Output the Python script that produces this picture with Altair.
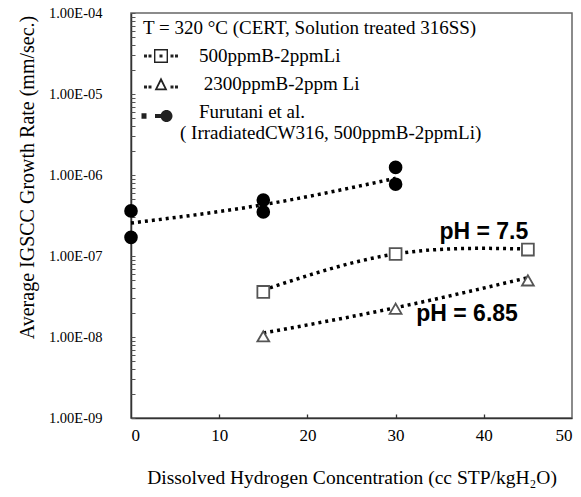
import altair as alt
import pandas as pd

# ---------------- data ----------------
series = ["500ppmB-2ppmLi", "2300ppmB-2ppm Li", "Furutani et al."]

sq_x = [15, 30, 45]
sq_y = [3.6e-8, 1.06e-7, 1.2e-7]
tri_x = [15, 30, 45]
tri_y = [1.02e-8, 2.23e-8, 5.0e-8]
circ_x = [0, 0, 15, 15, 30, 30]
circ_y = [3.6e-7, 1.7e-7, 4.9e-7, 3.5e-7, 1.24e-6, 7.7e-7]

# dotted trend lines
sq_fit_x = [15, 30, 45]
sq_fit_y = [3.8e-8, 1.06e-7, 1.22e-7]
tri_fit_x = [15, 30, 45]
tri_fit_y = [1.12e-8, 2.3e-8, 5.4e-8]
circ_fit_x = [0, 15, 30]
circ_fit_y = [2.55e-7, 4.3e-7, 9.1e-7]

ann_text = ["pH = 7.5", "pH = 6.85"]
ann_x = [40, 38.1]
ann_y = [2.0e-7, 1.92e-8]

legend_title = "T = 320 °C (CERT, Solution treated 316SS)"
furutani_line2 = "( IrradiatedCW316, 500ppmB-2ppmLi)"

x_ticks = [0, 10, 20, 30, 40, 50]
x_inner_ticks = [10, 20, 30, 40]
y_ticks = [1e-9, 1e-8, 1e-7, 1e-6, 1e-5, 1e-4]
y_minor = [k * 10.0 ** e for e in range(-9, -4) for k in range(1, 10)] + [1e-4]

x_title = "Dissolved Hydrogen Concentration (cc STP/kgH\u2082O)"
y_title = "Average IGSCC Growth Rate (mm/sec.)"

# ---------------- tables ----------------
pts = pd.DataFrame({
    "x": sq_x + tri_x + circ_x,
    "y": sq_y + tri_y + circ_y,
    "series": [series[0]] * len(sq_x) + [series[1]] * len(tri_x) + [series[2]] * len(circ_x),
})
pts["key"] = pts["series"]  # separate field so the legend is not merged with the hidden ones
fits = pd.DataFrame({
    "x": sq_fit_x + tri_fit_x + circ_fit_x,
    "y": sq_fit_y + tri_fit_y + circ_fit_y,
    "series": [series[0]] * len(sq_fit_x) + [series[1]] * len(tri_fit_x) + [series[2]] * len(circ_fit_x),
})
ann = pd.DataFrame({"x": ann_x, "y": ann_y, "t": ann_text})

SERIF = "Liberation Serif"
SANS = "Liberation Sans"

xs = alt.Scale(domain=[0, 50], nice=False, zero=False)
ys = alt.Scale(type="log", domain=[1e-9, 1e-4], nice=False)

# ---------------- legend symbols (custom paths, 10 px per unit) ----------------
def rect(x0, y0, x1, y1, cw=True):
    if cw:
        return f"M{x0},{y0}L{x1},{y0}L{x1},{y1}L{x0},{y1}Z"
    return f"M{x0},{y0}L{x0},{y1}L{x1},{y1}L{x1},{y0}Z"

def dot(cx, cy, h=0.15):
    return rect(round(cx - h, 3), round(cy - h, 3), round(cx + h, 3), round(cy + h, 3))

SQ_PATH = "".join(dot(x, 0) for x in [-1.55, -1.1, 0, 1.1, 1.55]) + \
    rect(-0.7, -0.7, 0.7, 0.7) + rect(-0.56, -0.56, 0.56, 0.56, cw=False)
TRI_PATH = "".join(dot(x, 0.3) for x in [-1.55, -1.1, 1.1, 1.55]) + \
    "M0,-0.68L0.64,0.62L-0.64,0.62Z" + "M0,-0.26L-0.36,0.44L0.36,0.44Z"
cy = 0.4
CIRC_PATH = rect(-1.95, cy - 0.27, -1.45, cy + 0.27) + rect(-0.6, cy - 0.2, 0.55, cy + 0.2) + \
    f"M-0.05,{cy}A0.6,0.6 0 1 1 1.15,{cy}A0.6,0.6 0 1 1 -0.05,{cy}Z"

shape_expr = (f"datum.value === '{series[0]}' ? '{SQ_PATH}' : "
              f"datum.value === '{series[1]}' ? '{TRI_PATH}' : '{CIRC_PATH}'")
ZW = "\u200b"   # keeps the leading spaces from being trimmed
NB = "\u00a0"
label_expr = (f"datum.value === '{series[2]}' ? ['{ZW}{NB * 4}{series[2]}', '{furutani_line2}'] : "
              f"datum.value === '{series[0]}' ? '{ZW}{NB * 4}{series[0]}' : '{ZW}{NB * 5}{series[1]}'")

legend = alt.Legend(
    title=legend_title, orient="none", legendX=12, legendY=6, padding=0,
    titleFont=SERIF, titleFontSize=19, titleFontWeight="normal", titleColor="black",
    titleLimit=600, titlePadding=8,
    labelFont=SERIF, labelFontSize=19, labelColor="black", labelLimit=600,
    labelExpr=label_expr, labelOffset=9, symbolSize=400, symbolOffset=8, rowPadding=8,
    symbolType=alt.ExprRef(expr=shape_expr),
    symbolFillColor="#222", symbolStrokeColor="transparent", symbolStrokeWidth=0,
)

# ---------------- layers ----------------
lines = alt.Chart(fits).mark_line(
    color="black", strokeWidth=3.5, strokeDash=[3, 4], interpolate="natural"
).encode(
    x=alt.X("x:Q", scale=xs, axis=alt.Axis(
        orient="bottom", values=x_ticks, ticks=False, tickSize=0, grid=False,
        labelFont=SERIF, labelFontSize=17, labelColor="black", labelPadding=9,
        labelFlush=True, domainColor="#333", domainWidth=1.5,
        title=x_title, titleFont=SERIF, titleFontSize=19.5, titleFontWeight="normal",
        titleColor="black", titleY=59, titleBaseline="middle",
    )),
    y=alt.Y("y:Q", scale=ys, axis=alt.Axis(
        orient="left", values=y_ticks, ticks=False, tickSize=0, grid=False,
        labelExpr="'1.00E-0' + round(-log(datum.value) / LN10)",
        labelFont=SERIF, labelFontSize=14.5, labelColor="black", labelPadding=29,
        domainColor="#333", domainWidth=1.5,
        title=y_title, titleFont=SERIF, titleFontSize=20, titleFontWeight="normal",
        titleColor="black", titleX=-104, titleY=164, titleAlign="center",
        titleBaseline="middle", titleAngle=-90,
    )),
    detail="series:N",
)

markers = alt.Chart(pts).mark_point(size=140, strokeWidth=1.8, filled=False).encode(
    x=alt.X("x:Q", scale=xs, axis=alt.Axis(
        orient="bottom", values=x_inner_ticks, labels=False, domain=False, grid=False,
        tickSize=4, offset=-4, tickColor="#333", tickWidth=1.3, title=None)),
    y=alt.Y("y:Q", scale=ys, axis=alt.Axis(
        orient="left", values=y_minor, labels=False, domain=False, grid=False,
        tickSize=4, offset=-4, tickColor="#555", tickWidth=1, title=None)),
    shape=alt.Shape("series:N", sort=series,
                    scale=alt.Scale(range=["square", "triangle-up", "circle"]), legend=None),
    fill=alt.Fill("series:N", sort=series,
                  scale=alt.Scale(range=["white", "white", "black"]), legend=None),
    stroke=alt.Stroke("series:N", sort=series,
                      scale=alt.Scale(range=["#555", "#555", "black"]), legend=None),
    opacity=alt.Opacity("key:N", scale=alt.Scale(domain=series, range=[1, 1, 1]), legend=legend),
)

texts = alt.Chart(ann).mark_text(
    font=SANS, fontWeight="bold", fontSize=23, color="black", align="center", baseline="middle"
).encode(
    x=alt.X("x:Q", scale=xs, axis=None),
    y=alt.Y("y:Q", scale=ys, axis=None),
    text="t:N",
)

chart = alt.layer(lines, markers, texts).resolve_scale(
    x="shared", y="shared"
).resolve_axis(
    x="independent", y="independent"
).properties(
    width=441, height=405,
    autosize=alt.AutoSizeParams(type="none"),
    padding={"left": 123, "top": 5, "right": 1, "bottom": 71},
    background="white",
).configure_view(stroke="#666", strokeWidth=1.5)

chart.save("out.html", embed_options={"renderer": "svg", "actions": False})
